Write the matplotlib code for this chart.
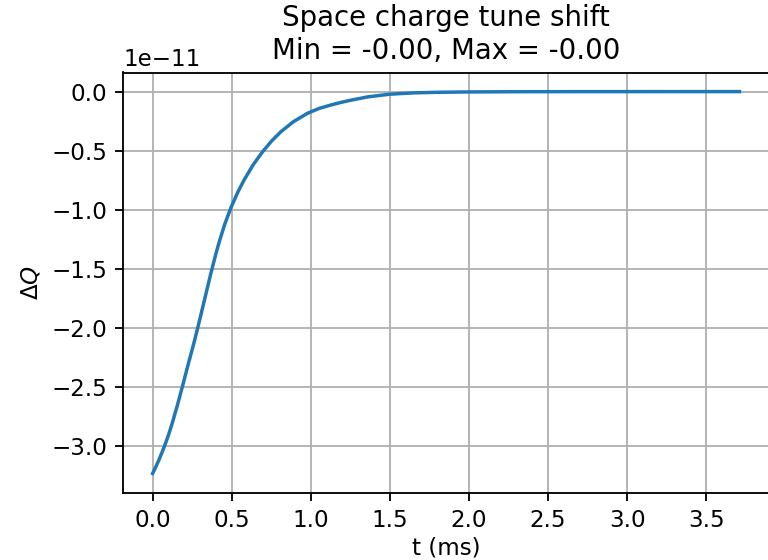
import matplotlib
matplotlib.use("Agg")
import matplotlib.pyplot as plt
import numpy as np

# time in ms
t_ms = [0.00, 0.02, 0.04, 0.06, 0.083, 0.105, 0.126, 0.158, 0.19, 0.221,
        0.259, 0.29, 0.326, 0.368, 0.40, 0.421, 0.455, 0.495, 0.54, 0.579,
        0.635, 0.695, 0.75, 0.81, 0.89, 0.979, 1.05, 1.126, 1.19, 1.253,
        1.36, 1.50, 1.65, 1.80, 2.00, 2.30, 2.70, 3.20, 3.71]
# tune shift (units of 1e-11)
dq_e11 = [-3.235, -3.18, -3.12, -3.055, -2.975, -2.89, -2.80, -2.65, -2.49, -2.33,
          -2.14, -1.975, -1.775, -1.54, -1.374, -1.273, -1.127, -0.983, -0.848, -0.747,
          -0.621, -0.51, -0.422, -0.341, -0.255, -0.184, -0.144, -0.114, -0.092, -0.073,
          -0.045, -0.022, -0.011, -0.006, -0.003, -0.0012, -0.0004, -0.0002, -0.0001]

t = np.array(t_ms)
dq = np.array(dq_e11) * 1e-11

dpi = 166
fig = plt.figure(figsize=(768 / dpi, 560 / dpi), dpi=dpi)
ax = fig.add_axes([123.3 / 768, 1 - 492.5 / 560, (768.8 - 123.3) / 768, (492.5 - 72.5) / 560])
ax.plot(t, dq, color="#1f77b4")
ax.grid(True)
ax.set_xlabel("t (ms)", labelpad=2)
ax.set_ylabel(r"$\Delta Q$")
ax.set_title("Space charge tune shift\nMin = %.2f, Max = %.2f" % (dq.min(), dq.max()))
fig.savefig("out.png", dpi=dpi)
